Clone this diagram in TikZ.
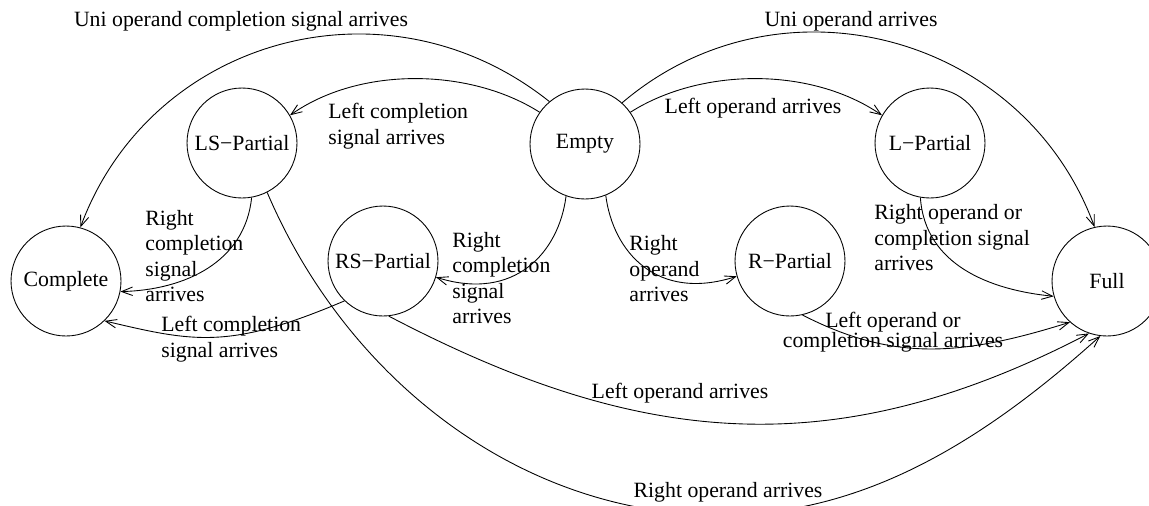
\documentclass[tikz,border=0pt]{standalone}
\usepackage{fontspec}
\setmainfont{Liberation Serif}
\usetikzlibrary{arrows.meta}

\begin{document}
\begin{tikzpicture}[x=0.02cm,y=-0.02cm,
    st/.style={draw,circle,minimum size=2.2cm,inner sep=0pt,line width=0.5pt,font=\fontsize{12.4}{14.5}\selectfont},
    a/.style={-{Straight Barb[length=2.2mm,width=1.7mm]},line width=0.5pt},
    lb/.style={font=\fontsize{12.4}{14.5}\selectfont,inner sep=0pt,align=left}]
    \useasboundingbox (0,0) rectangle (1149,505);
    % states
    \node[st] (cmp) at (66,281) {Complete};
    \node[st] (lsp) at (242,143) {LS−Partial};
    \node[st] (empty) at (585,144) {Empty};
    \node[st] (lp) at (930,143) {L−Partial};
    \node[st] (rsp) at (383,261) {RS−Partial};
    \node[st] (rp) at (790,261) {R−Partial};
    \node[st] (full) at (1107,281) {Full};
    % transitions
    \draw[a] (empty.130) .. controls (387,-28) and (151,37) .. (cmp.75);
    \draw[a] (empty.48) .. controls (779,-31) and (1023,33) .. (full.103);
    \draw[a] (empty.145) .. controls (470,68) and (360,66) .. (lsp.30);
    \draw[a] (empty.35) .. controls (700,68) and (810,66) .. (lp.150);
    \draw[a] (lp.260) .. controls (925,265) and (990,290) .. (full.196);
    \draw[a] (lsp.280) .. controls (245,262) and (185,290) .. (cmp.349);
    \draw[a] (lsp.297) .. controls (348,382) and (523,515) .. (720,515)
        .. controls (860,515) and (978,446) .. (full.263);
    \draw[a] (rsp.276) .. controls (637,446) and (832,467) .. (full.251);
    \draw[a] (rp.283) .. controls (894,362) and (962,356) .. (full.228);
    \draw[a] (rsp.226) .. controls (229,350) and (194,342) .. (cmp.314);
    \draw[a] (empty.250) .. controls (559,252) and (515,302) .. (rsp.343);
    \draw[a] (empty.292) .. controls (613,252) and (657,302) .. (rp.196);
    % labels
    \node[lb] (tUC) at (241,21) {Uni operand completion signal arrives};
    \node[lb] (tUO) at (851,21) {Uni operand arrives};
    \node[lb,anchor=west] (tLC) at (328,126) {Left completion\\signal arrives};
    \node[lb] (tLO) at (753,108) {Left operand arrives};
    \node[lb,anchor=west] (tRC) at (145,256) {Right\\completion\\signal\\arrives};
    \node[lb,anchor=west] (tRL) at (874,238) {Right operand or\\completion signal\\arrives};
    \node[lb,anchor=west] (tRCE) at (452,278) {Right\\completion\\signal\\arrives};
    \node[lb,anchor=west] (tROE) at (629,269) {Right\\operand\\arrives};
    \node[lb,anchor=west] (tLCR) at (161,339) {Left completion\\signal arrives};
    \node[lb,align=center] (tLR) at (893,332) {Left operand or\\[-3pt]completion signal arrives};
    \node[lb] (tLRS) at (680,393) {Left operand arrives};
    \node[lb] (tRLS) at (728,492) {Right operand arrives};
\end{tikzpicture}
\end{document}
